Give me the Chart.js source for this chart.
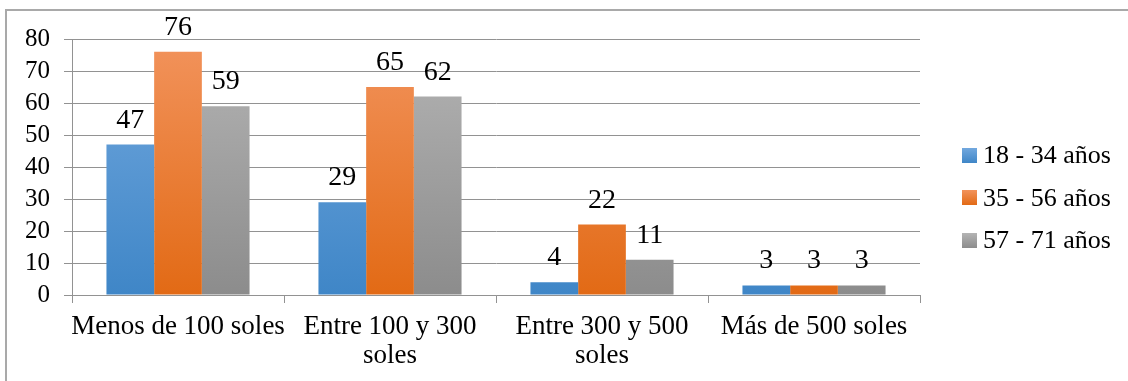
<!DOCTYPE html>
<html>
<head>
<meta charset="utf-8">
<script src="https://cdn.jsdelivr.net/npm/chart.js@4/dist/chart.umd.min.js"></script>
<style>
  html, body { margin: 0; padding: 0; background: #fff; }
  #wrap { position: relative; width: 1128px; height: 381px; overflow: hidden; }
  #frame { position: absolute; left: 5px; top: 9px; right: -4px; bottom: -4px; border-left: 2px solid #a9a9a9; border-top: 2px solid #a9a9a9; }
  #chart { position: absolute; left: 0; top: 0; }
  #legend { position: absolute; left: 962px; top: 134px; font-size: 26px; color: #000; }
  .leg-item { height: 42.5px; display: flex; align-items: center; white-space: nowrap; }
  .leg-box { width: 15px; height: 15px; margin-right: 6px; }
</style>
</head>
<body>
<div id="wrap">
  <div id="frame"></div>
  <canvas id="chart" width="1128" height="381"></canvas>
  <div id="legend"></div>
</div>
<script>
const categories = ['Menos de 100 soles', ['Entre 100 y 300', 'soles'], ['Entre 300 y 500', 'soles'], 'Más de 500 soles'];
const seriesNames = ['18 - 34 años', '35 - 56 años', '57 - 71 años'];
const age18to34 = [47, 29, 4, 3];
const age35to56 = [76, 65, 22, 3];
const age57to71 = [59, 62, 11, 3];
const yTicks    = [0, 10, 20, 30, 40, 50, 60, 70, 80];

// pick the first serif face that is really installed
function pickSerif() {
  const c = document.createElement('canvas').getContext('2d');
  const sample = 'Menos de 100 soles años Wg';
  const candidates = ['Liberation Serif', 'Times New Roman', 'Tinos', 'DejaVu Serif', 'Noto Serif'];
  c.font = '40px monospace';
  const base = c.measureText(sample).width;
  for (const name of candidates) {
    c.font = `40px "${name}", monospace`;
    if (Math.abs(c.measureText(sample).width - base) > 0.5) return `"${name}", serif`;
  }
  return 'serif';
}

const FONT = pickSerif();
const GRID = '#929292';

// light at the top of each bar, darker at the base (Excel style)
const SHADES = [
  { top: '#72a8de', bottom: '#3f86c7', flat: '#5b9bd5' },
  { top: '#f2935c', bottom: '#e26a15', flat: '#ed7d31' },
  { top: '#b4b4b4', bottom: '#8c8c8c', flat: '#a5a5a5' },
];

function barGradient(shade) {
  return ctx => {
    const chart = ctx.chart;
    const area  = chart.chartArea;
    if (!area || ctx.raw == null) return shade.flat;
    const y    = chart.scales.y;
    const yTop = y.getPixelForValue(y.max);
    const yBot = y.getPixelForValue(0);
    const g = chart.ctx.createLinearGradient(0, yTop, 0, yBot);
    g.addColorStop(0, shade.top);
    g.addColorStop(1, shade.bottom);
    return g;
  };
}

// value labels above bars
const valueLabels = {
  id: 'valueLabels',
  afterDatasetsDraw(chart) {
    const c = chart.ctx;
    c.save();
    c.font = `28px ${FONT}`;
    c.fillStyle = '#000';
    c.textAlign = 'center';
    c.textBaseline = 'alphabetic';
    chart.data.datasets.forEach((ds, i) => {
      chart.getDatasetMeta(i).data.forEach((bar, j) => {
        c.fillText(String(ds.data[j]), bar.x, bar.y - 17);
      });
    });
    c.restore();
  },
};

const seriesData = [age18to34, age35to56, age57to71];

new Chart(document.getElementById('chart'), {
  type: 'bar',
  data: {
    labels: categories,
    datasets: seriesData.map((d, i) => ({
      label: seriesNames[i],
      data: d,
      backgroundColor: barGradient(SHADES[i]),
      borderWidth: 0,
      categoryPercentage: 0.675,
      barPercentage: 1,
    })),
  },
  options: {
    responsive: false,
    animation: false,
    events: [],
    layout: { padding: { left: 0, top: 39, right: 208, bottom: 0 } },
    plugins: {
      legend: { display: false },
      tooltip: { enabled: false },
    },
    scales: {
      x: {
        grid: { drawOnChartArea: false, drawTicks: true, tickLength: 8, color: GRID, offset: true },
        border: { color: GRID, width: 1 },
        ticks: { color: '#000', font: { family: FONT, size: 27, lineHeight: 1.05 }, padding: 10, maxRotation: 0, autoSkip: false },
        afterFit: s => { s.height = 86; },
      },
      y: {
        min: yTicks[0],
        max: yTicks[yTicks.length - 1],
        afterBuildTicks: s => { s.ticks = yTicks.map(v => ({ value: v })); },
        grid: { color: GRID, tickLength: 8, lineWidth: 1 },
        border: { color: GRID, width: 1 },
        ticks: { color: '#000', font: { family: FONT, size: 25, lineHeight: 1 }, padding: 14, autoSkip: false },
        afterFit: s => { s.width = 72; },
      },
    },
  },
  plugins: [valueLabels],
});

const legendEl = document.getElementById('legend');
legendEl.style.fontFamily = FONT;
legendEl.innerHTML = seriesNames.map((n, i) => `
  <div class="leg-item">
    <div class="leg-box" style="background:linear-gradient(${SHADES[i].top}, ${SHADES[i].bottom})"></div>
    <span>${n}</span>
  </div>`).join('');
</script>
</body>
</html>
